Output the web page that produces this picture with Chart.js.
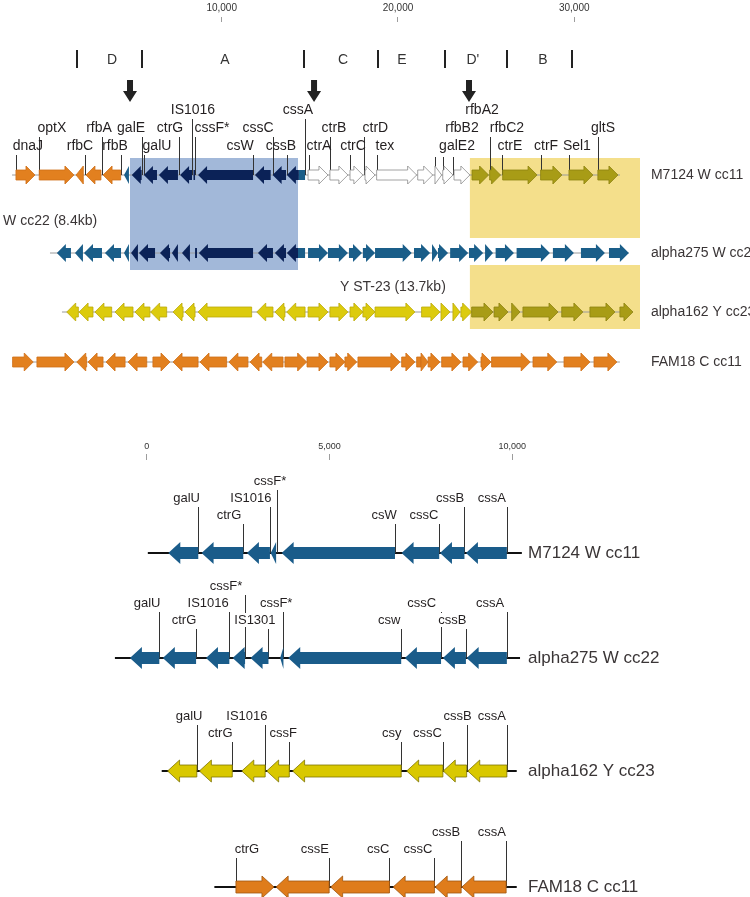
<!DOCTYPE html>
<html>
<head>
<meta charset="utf-8">
<script src="https://cdn.jsdelivr.net/npm/chart.js@4.4.1/dist/chart.umd.min.js"></script>
<style>
  body { margin: 0; background: #fff; }
  canvas { display: block; }
</style>
</head>
<body>
<canvas id="mapa-locus" width="750" height="400"></canvas>
<canvas id="mapa-capsula" width="750" height="497"></canvas>
<script>
//DATOS DEL LOCUS COMPLETO (pb)
const marcasLocus = [10000, 20000, 30000];
const regiones = ['D', 'A', 'C', 'E', "D'", 'B'];
const limitesRegiones = [1790, 5480, 14670, 18870, 22670, 26180, 29870];
const centrosRegiones = [3780, 10190, 16880, 20230, 24250, 28220];
const sitiosInsercion = [4800, 15240, 24030];
const cajaCapsula = [4800, 14330];
const cajaLocus2 = [24080, 33730];

// [inicio, fin, sentido, color]
const m7124Locus = [
  [-1670, -590, 1, 'o'], [-350, 1620, 1, 'o'], [1740, 2150, -1, 'o'], [2300, 3150, -1, 'o'], [3270, 4270, -1, 'o'],
  [4460, 4740, -1, 't'],
  [4900, 5460, -1, 'n'], [5590, 6330, -1, 'n'], [6440, 7520, -1, 'n'], [7640, 8320, -1, 'n'], [8400, 8490, 0, 'n'],
  [8660, 11780, -1, 'n'], [11890, 12780, -1, 'n'], [12890, 13650, -1, 'n'], [13700, 14380, -1, 'n'],
  [14380, 14730, 0, 't'],
  [14900, 16030, 1, 'w'], [16140, 17160, 1, 'w'], [17280, 18010, 1, 'w'], [18130, 18700, 1, 'w'], [18790, 21060, 1, 'w'],
  [21120, 21970, 1, 'w'], [22100, 22480, 1, 'w'], [22540, 23120, 1, 'w'], [23180, 24080, 1, 'w'],
  [24200, 25140, 1, 'v'], [25200, 25820, 1, 'v'], [25940, 27890, 1, 'v'], [28090, 29300, 1, 'v'], [29700, 31060, 1, 'v'], [31340, 32480, 1, 'v']
];
// [nombre, linea guia, centro del texto, fila, guia corta]
const m7124LocusEtiquetas = [
  ['dnaJ', -1670, -990, 2], ['optX', -350, 370, 1], ['rfbC', 2250, 1960, 2], ['rfbA', 3190, 3040, 1], ['rfbB', 4270, 3950, 2],
  ['galE', 5460, 4860, 1], ['galU', 5590, 6330, 2], ['ctrG', 7580, 7070, 1], ['IS1016', 8300, 8370, 0], ['cssF*', 8490, 9450, 1],
  ['csW', 11780, 11040, 2], ['cssC', 12890, 12060, 1], ['cssB', 13690, 13360, 2], ['cssA', 14730, 14330, 0],
  ['ctrA', 14950, 15520, 2], ['ctrB', 16140, 16370, 1], ['ctrC', 17280, 17450, 2], ['ctrD', 18090, 18720, 1], ['tex', 18810, 19260, 2],
  ['rfbA2', 22100, 24770, 0, true], ['rfbB2', 22540, 23630, 1, true], ['galE2', 23120, 23350, 2, true], ['rfbC2', 25220, 26180, 1],
  ['ctrE', 25920, 26350, 2], ['ctrF', 28090, 28400, 2], ['Sel1', 29720, 30150, 2], ['gltS', 31360, 31630, 1]
];

const alpha275Locus = [
  [650, 1450, -1, 't'], [1680, 2130, -1, 't'], [2190, 3210, -1, 't'], [3380, 4290, -1, 't'], [4460, 4740, -1, 't'],
  [4860, 5250, -1, 'n'], [5310, 6220, -1, 'n'], [6500, 7070, -1, 'n'], [7180, 7520, -1, 'n'], [7750, 8200, -1, 'n'], [8490, 8600, 0, 'n'],
  [8710, 11780, -1, 'n'], [12060, 12910, -1, 'n'], [13020, 13650, -1, 'n'], [13700, 14330, -1, 'n'],
  [14330, 14730, 0, 't'],
  [14900, 16030, 1, 't'], [16030, 17160, 1, 't'], [17220, 17960, 1, 't'], [18010, 18700, 1, 't'], [18700, 20780, 1, 't'],
  [20910, 21820, 1, 't'], [21930, 22270, 1, 't'], [22270, 22840, 1, 't'], [22960, 23980, 1, 't'], [24030, 24830, 1, 't'],
  [24940, 25390, 1, 't'], [25540, 26580, 1, 't'], [26730, 28620, 1, 't'], [28790, 29980, 1, 't'], [30380, 31740, 1, 't'], [31970, 33100, 1, 't']
];

const alpha162Locus = [
  [1210, 1870, -1, 'y'], [1910, 2700, -1, 'y'], [2810, 3760, -1, 'y'], [3950, 4970, -1, 'y'], [5080, 5930, -1, 'y'], [5970, 6880, -1, 'y'],
  [7240, 7810, -1, 'y'], [7920, 8490, -1, 'y'], [8660, 11700, -1, 'y'], [11990, 12910, -1, 'y'], [13020, 13590, -1, 'y'], [13690, 14730, -1, 'y'],
  [14900, 16030, 1, 'y'], [16140, 17160, 1, 'y'], [17280, 18010, 1, 'y'], [18010, 18700, 1, 'y'], [18700, 20960, 1, 'y'],
  [21340, 22380, 1, 'y'], [22440, 22950, 1, 'y'], [23120, 23520, 1, 'y'], [23570, 24180, 1, 'y'],
  [24180, 25390, 1, 'v'], [25450, 26240, 1, 'v'], [26450, 26920, 1, 'v'], [27090, 29080, 1, 'v'], [29290, 30490, 1, 'v'],
  [30890, 32310, 1, 'v'], [32590, 33330, 1, 'v']
];

const fam18Locus = [
  [-1860, -690, 1, 'o'], [-480, 1620, 1, 'o'], [1780, 2340, -1, 'o'], [2420, 3270, -1, 'o'], [3440, 4520, -1, 'o'], [4690, 5750, -1, 'o'],
  [6100, 7070, 1, 'o'], [7240, 8660, -1, 'o'], [8770, 10280, -1, 'o'], [10410, 11490, -1, 'o'], [11610, 12270, -1, 'o'], [12330, 13480, -1, 'o'],
  [13590, 14820, 1, 'o'], [14840, 16030, 1, 'o'], [16140, 16990, 1, 'o'], [16990, 17660, 1, 'o'], [17730, 20110, 1, 'o'],
  [20210, 20960, 1, 'o'], [21060, 21310, 0, 'o'], [21310, 21710, 1, 'o'], [21710, 22380, 1, 'o'], [22480, 23570, 1, 'o'],
  [23690, 24520, 1, 'o'], [24710, 25280, 1, 'o'], [25310, 27500, 1, 'o'], [27660, 29010, 1, 'o'], [29420, 30890, 1, 'o'], [31120, 32420, 1, 'o']
];

//DATOS DE LA REGION CAPSULAR (pb)
const marcasCapsula = [0, 5000, 10000];

const m7124Capsula = [[590, 1410, -1], [1500, 2640, -1], [2740, 3370, -1], [3390, 3540, -1], [3690, 6790, -1], [6970, 8000, -1], [8020, 8690, -1], [8730, 9850, -1]];
const m7124CapsulaEtiquetas = [
  ['galU', 1410, 1090, 1], ['ctrG', 2640, 2250, 2], ['IS1016', 3370, 2850, 1], ['cssF*', 3550, 3370, 0],
  ['csW', 6790, 6490, 2], ['cssC', 8000, 7580, 2], ['cssB', 8690, 8300, 1], ['cssA', 9850, 9440, 1]
];

const alpha275Capsula = [[-460, 345, -1], [440, 1350, -1], [1620, 2260, -1], [2350, 2690, -1], [2840, 3330, -1], [3650, 3740, -1], [3870, 6960, -1], [7060, 8050, -1], [8100, 8730, -1], [8750, 9850, -1]];
const alpha275CapsulaEtiquetas = [
  ['cssF*', 2690, 2170, 0], ['galU', 345, 10, 1], ['IS1016', 2260, 1680, 1], ['cssF*', 3740, 3540, 1], ['cssC', 8050, 7520, 1],
  ['cssA', 9850, 9390, 1], ['ctrG', 1350, 1020, 2], ['IS1301', 3330, 2960, 2], ['csw', 6960, 6630, 2], ['cssB', 8730, 8360, 2]
];

const alpha162Capsula = [[570, 1370, -1], [1440, 2340, -1], [2600, 3240, -1], [3280, 3900, -1], [3990, 6960, -1], [7110, 8100, -1], [8110, 8750, -1], [8780, 9850, -1]];
const alpha162CapsulaEtiquetas = [
  ['galU', 1370, 1160, 1], ['IS1016', 3240, 2740, 1], ['cssB', 8750, 8500, 1], ['cssA', 9850, 9440, 1],
  ['ctrG', 2340, 2010, 2], ['cssF', 3900, 3730, 2], ['csy', 6960, 6700, 2], ['cssC', 8100, 7680, 2]
];

const fam18Capsula = [[2440, 3480, 1], [3540, 4990, -1], [5030, 6640, -1], [6740, 7870, -1], [7890, 8600, -1], [8620, 9830, -1]];
const fam18CapsulaEtiquetas = [
  ['cssB', 8600, 8190, 1], ['cssA', 9830, 9440, 1], ['ctrG', 2440, 2740, 2], ['cssE', 4990, 4600, 2], ['csC', 6640, 6330, 2], ['cssC', 7870, 7420, 2]
];

const pistasLocus = [
  { nombre: 'M7124 W cc11', genes: m7124Locus, etiquetas: m7124LocusEtiquetas, eje: [-1890, 32590] },
  { nombre: 'alpha275 W cc22', genes: alpha275Locus, etiquetas: [], eje: [260, 33100] },
  { nombre: 'alpha162 Y cc23', genes: alpha162Locus, etiquetas: [], eje: [940, 33330] },
  { nombre: 'FAM18 C cc11', genes: fam18Locus, etiquetas: [], eje: [-1860, 32590] }
];
const pistasCapsula = [
  { nombre: 'M7124 W cc11', genes: m7124Capsula, etiquetas: m7124CapsulaEtiquetas, eje: [30, 10260], color: 't' },
  { nombre: 'alpha275 W cc22', genes: alpha275Capsula, etiquetas: alpha275CapsulaEtiquetas, eje: [-870, 10210], color: 't' },
  { nombre: 'alpha162 Y cc23', genes: alpha162Capsula, etiquetas: alpha162CapsulaEtiquetas, eje: [410, 10120], color: 'y' },
  { nombre: 'FAM18 C cc11', genes: fam18Capsula, etiquetas: fam18CapsulaEtiquetas, eje: [1850, 10120], color: 'o' }
];

//ESTILOS
const fuente = '"Liberation Sans", Arial, sans-serif';
const estiloLocus = {
  filasY: [175, 253, 312, 362],
  filas: [-65, -47, -29],
  guiaCorta: -18,
  forma: { cuerpo: 10, cabeza: 18, punta: 9 },
  paleta: {
    o: ['#e2801f', '#cf6f16'], t: ['#1a5e89', null], n: ['#0b2257', null],
    w: ['#ffffff', '#8c8c8c'], v: ['#a89c16', '#8d8310'], y: ['#dccb0d', '#bba90a']
  },
  colorEje: '#9a9a9a', grosorEje: 1,
  fuente: '14px ' + fuente, fuenteNombre: '14px ' + fuente,
  xNombre: 34350, fondo: false
};
const estiloCapsula = {
  filasY: [153, 258, 371, 487],
  filas: [-72, -55, -38],
  guiaCorta: -18,
  forma: { cuerpo: 12, cabeza: 22, punta: 12 },
  paleta: { t: ['#1a5c8a', null], y: ['#d9c800', '#7d7400'], o: ['#df7c1b', '#a0560f'] },
  colorEje: '#111', grosorEje: 2,
  fuente: '13px ' + fuente, fuenteNombre: '17px ' + fuente,
  xNombre: 10430, fondo: true
};

function dibujarGen(ctx, x1, x2, sentido, y, forma, [relleno, borde]) {
  const { cuerpo, cabeza, punta } = forma;
  const largo = x2 - x1;
  const p = Math.min(punta, largo);
  ctx.beginPath();
  if (sentido === 0) {
    ctx.rect(x1, y - cuerpo / 2, largo, cuerpo);
  } else if (sentido > 0) {
    ctx.moveTo(x1, y - cuerpo / 2);
    ctx.lineTo(x2 - p, y - cuerpo / 2);
    ctx.lineTo(x2 - p, y - cabeza / 2);
    ctx.lineTo(x2, y);
    ctx.lineTo(x2 - p, y + cabeza / 2);
    ctx.lineTo(x2 - p, y + cuerpo / 2);
    ctx.lineTo(x1, y + cuerpo / 2);
  } else {
    ctx.moveTo(x2, y - cuerpo / 2);
    ctx.lineTo(x1 + p, y - cuerpo / 2);
    ctx.lineTo(x1 + p, y - cabeza / 2);
    ctx.lineTo(x1, y);
    ctx.lineTo(x1 + p, y + cabeza / 2);
    ctx.lineTo(x1 + p, y + cuerpo / 2);
    ctx.lineTo(x2, y + cuerpo / 2);
  }
  ctx.closePath();
  ctx.fillStyle = relleno;
  ctx.fill();
  if (borde) {
    ctx.strokeStyle = borde;
    ctx.lineWidth = 0.8;
    ctx.stroke();
  }
}

function dibujarPista(chart, pista, filaY, estilo) {
  const { ctx, scales: { x, y } } = chart;
  const yPista = y.getPixelForValue(filaY);
  ctx.strokeStyle = estilo.colorEje;
  ctx.lineWidth = estilo.grosorEje;
  ctx.beginPath();
  ctx.moveTo(x.getPixelForValue(pista.eje[0]), yPista);
  ctx.lineTo(x.getPixelForValue(pista.eje[1]), yPista);
  ctx.stroke();

  // lineas guia
  ctx.strokeStyle = '#333';
  ctx.lineWidth = 1;
  pista.etiquetas.forEach(([, guia, , fila, corta]) => {
    const xg = Math.round(x.getPixelForValue(guia)) + 0.5;
    const inicio = corta ? estilo.guiaCorta : estilo.filas[fila] + 9;
    ctx.beginPath();
    ctx.moveTo(xg, yPista + inicio);
    ctx.lineTo(xg, yPista);
    ctx.stroke();
  });

  pista.genes.forEach(([ini, fin, sentido, c]) => {
    dibujarGen(ctx, x.getPixelForValue(ini), x.getPixelForValue(fin), sentido, yPista, estilo.forma, estilo.paleta[c || pista.color]);
  });

  ctx.font = estilo.fuente;
  ctx.textAlign = 'center';
  ctx.textBaseline = 'middle';
  pista.etiquetas.forEach(([nombre, , centro, fila]) => {
    const xt = x.getPixelForValue(centro);
    const yt = yPista + estilo.filas[fila];
    if (estilo.fondo) {
      const ancho = ctx.measureText(nombre).width;
      ctx.fillStyle = '#fff';
      ctx.fillRect(xt - ancho / 2 - 1, yt - 7, ancho + 2, 14);
    }
    ctx.fillStyle = '#231f20';
    ctx.fillText(nombre, xt, yt);
  });

  ctx.font = estilo.fuenteNombre;
  ctx.textAlign = 'left';
  ctx.fillStyle = '#3a3536';
  ctx.fillText(pista.nombre, x.getPixelForValue(estilo.xNombre), yPista);
}

function rectanguloEnEscala(chart, [a, b], y1, y2, color) {
  const { ctx, scales: { x, y } } = chart;
  const px1 = x.getPixelForValue(a);
  const py1 = y.getPixelForValue(y1);
  ctx.fillStyle = color;
  ctx.fillRect(px1, py1, x.getPixelForValue(b) - px1, y.getPixelForValue(y2) - py1);
}

const pluginLocus = {
  id: 'locus',
  beforeDatasetsDraw(chart) {
    const { ctx } = chart;
    ctx.save();
    rectanguloEnEscala(chart, cajaCapsula, 158, 270, '#a2b8d9');
    rectanguloEnEscala(chart, cajaLocus2, 158, 238, '#f4df8b');
    rectanguloEnEscala(chart, cajaLocus2, 265, 329, '#f4df8b');
    ctx.restore();
  },
  afterDatasetsDraw(chart) {
    const { ctx, scales: { x, y } } = chart;
    ctx.save();
    // regiones D A C E D' B
    ctx.fillStyle = '#222';
    limitesRegiones.forEach(v => {
      ctx.fillRect(Math.round(x.getPixelForValue(v)) - 1, y.getPixelForValue(50), 2, 18);
    });
    ctx.font = '14px ' + fuente;
    ctx.textAlign = 'center';
    ctx.textBaseline = 'middle';
    ctx.fillStyle = '#333';
    regiones.forEach((r, i) => ctx.fillText(r, x.getPixelForValue(centrosRegiones[i]), y.getPixelForValue(60)));

    // flechas de insercion
    ctx.fillStyle = '#222';
    sitiosInsercion.forEach(v => {
      const px = x.getPixelForValue(v);
      const top = y.getPixelForValue(80);
      ctx.beginPath();
      ctx.moveTo(px - 3, top);
      ctx.lineTo(px + 3, top);
      ctx.lineTo(px + 3, top + 11);
      ctx.lineTo(px + 7, top + 11);
      ctx.lineTo(px, top + 22);
      ctx.lineTo(px - 7, top + 11);
      ctx.lineTo(px - 3, top + 11);
      ctx.closePath();
      ctx.fill();
    });

    pistasLocus.forEach((pista, i) => dibujarPista(chart, pista, estiloLocus.filasY[i], estiloLocus));

    ctx.font = '14px ' + fuente;
    ctx.textAlign = 'left';
    ctx.fillStyle = '#3a3536';
    ctx.fillText('W cc22 (8.4kb)', x.getPixelForValue(-2400), y.getPixelForValue(221));
    ctx.fillText('Y ST-23 (13.7kb)', x.getPixelForValue(16710), y.getPixelForValue(287));
    ctx.restore();
  }
};

const pluginCapsula = {
  id: 'capsula',
  afterDatasetsDraw(chart) {
    chart.ctx.save();
    pistasCapsula.forEach((pista, i) => dibujarPista(chart, pista, estiloCapsula.filasY[i], estiloCapsula));
    chart.ctx.restore();
  }
};

function opcionesMapa(marcas, min, max, altoEje, alto, tamLetra, largoMarca, relleno) {
  return {
    responsive: false,
    animation: false,
    devicePixelRatio: 1,
    events: [],
    layout: { padding: 0 },
    plugins: { legend: { display: false }, tooltip: { enabled: false } },
    scales: {
      x: {
        type: 'linear',
        position: 'top',
        min,
        max,
        afterBuildTicks: escala => { escala.ticks = marcas.map(value => ({ value })); },
        afterFit: escala => { escala.height = altoEje; },
        border: { display: false },
        grid: { drawOnChartArea: false, drawTicks: true, tickLength: largoMarca, color: '#9d9d9d' },
        ticks: {
          font: { family: fuente, size: tamLetra },
          color: '#333',
          padding: relleno,
          maxRotation: 0,
          callback: v => v.toLocaleString('en-US')
        }
      },
      y: { type: 'linear', display: false, min: altoEje, max: alto, reverse: true }
    }
  };
}

new Chart(document.getElementById('mapa-locus'), {
  type: 'scatter',
  data: { datasets: [] },
  options: opcionesMapa(marcasLocus, -2575, 39970, 22, 400, 10, 5, 3),
  plugins: [pluginLocus]
});

new Chart(document.getElementById('mapa-capsula'), {
  type: 'scatter',
  data: { datasets: [] },
  options: opcionesMapa(marcasCapsula, -4013, 16500, 60, 497, 9, 6, 2),
  plugins: [pluginCapsula]
});
</script>
</body>
</html>
